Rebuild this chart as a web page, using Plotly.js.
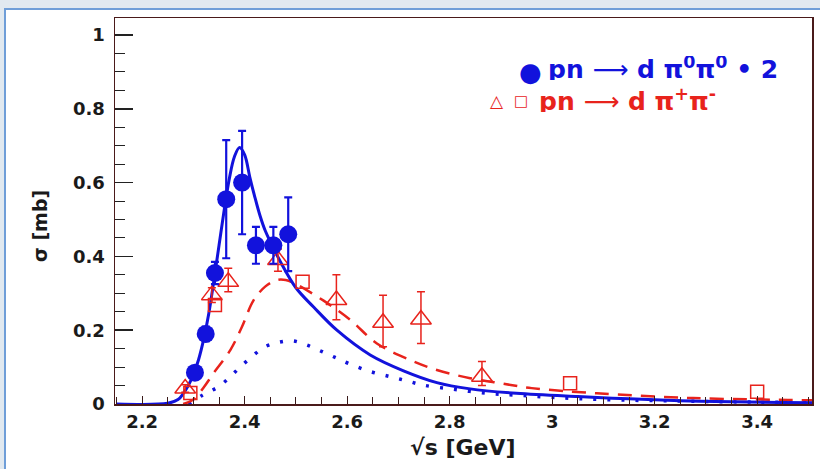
<!DOCTYPE html>
<html>
<head>
<meta charset="utf-8">
<script src="https://cdn.plot.ly/plotly-3.0.1.min.js"></script>
<style>
  html, body { margin: 0; padding: 0; background: #e1e9f0; }
  #frame { position: absolute; left: 4px; top: 8px; width: 816px; height: 461px; background: #ffffff;
           border-left: 2px solid #6f9ed8; border-top: 2px solid #6f9ed8; box-sizing: border-box; }
  #chart { position: absolute; left: 0; top: 0; width: 820px; height: 469px; }
</style>
</head>
<body>
<div id="frame"></div>
<div id="chart"></div>
<script>
// pn -> d pi0 pi0 (x2) data
const pi0X = [2.303, 2.324, 2.342, 2.364, 2.395, 2.422, 2.456, 2.485];
const pi0Y = [0.085, 0.19, 0.355, 0.555, 0.60, 0.43, 0.43, 0.46];
const pi0ErrUp = [0.015, 0.02, 0.03, 0.16, 0.14, 0.05, 0.05, 0.10];
const pi0ErrDn = [0.015, 0.02, 0.03, 0.16, 0.14, 0.05, 0.05, 0.10];

// pn -> d pi+ pi- data (triangles)
const triX = [2.284, 2.336, 2.368, 2.465, 2.579, 2.670, 2.744, 2.863];
const triY = [0.042, 0.295, 0.331, 0.39, 0.282, 0.22, 0.229, 0.074];
const triErrUp = [0.01, 0.02, 0.037, 0.03, 0.068, 0.075, 0.075, 0.041];
const triErrDn = [0.01, 0.02, 0.027, 0.03, 0.054, 0.065, 0.065, 0.024];

// pn -> d pi+ pi- data (squares)
const sqX = [2.294, 2.342, 2.513, 3.035, 3.40];
const sqY = [0.03, 0.268, 0.331, 0.056, 0.033];

// tick labels
const xTickVals = [2.2, 2.4, 2.6, 2.8, 3.0, 3.2, 3.4];
const xTickText = ['2.2', '2.4', '2.6', '2.8', '3', '3.2', '3.4'];
const yTickVals = [0, 0.2, 0.4, 0.6, 0.8, 1.0];
const yTickText = ['0', '0.2', '0.4', '0.6', '0.8', '1'];

// blue solid curve
const solidX = [2.15, 2.25, 2.27, 2.28, 2.29, 2.30, 2.31, 2.32, 2.33, 2.34, 2.35, 2.36, 2.37, 2.38, 2.39, 2.40, 2.41, 2.42, 2.43, 2.44, 2.45, 2.47, 2.50, 2.535, 2.58, 2.645, 2.71, 2.775, 2.84, 2.93, 3.05, 3.15, 3.25, 3.35, 3.45, 3.507];
const solidY = [0.0, 0.002, 0.012, 0.028, 0.05, 0.08, 0.12, 0.175, 0.245, 0.335, 0.43, 0.525, 0.61, 0.67, 0.695, 0.675, 0.615, 0.56, 0.51, 0.47, 0.44, 0.385, 0.315, 0.262, 0.20, 0.133, 0.09, 0.058, 0.041, 0.029, 0.02, 0.014, 0.009, 0.006, 0.004, 0.0035];

// red dashed curve
const dashX = [2.28, 2.30, 2.32, 2.339, 2.372, 2.395, 2.417, 2.44, 2.463, 2.48, 2.50, 2.554, 2.606, 2.658, 2.723, 2.775, 2.84, 2.90, 2.96, 3.087, 3.275, 3.46, 3.507];
const dashY = [0.0, 0.012, 0.045, 0.083, 0.146, 0.21, 0.28, 0.318, 0.336, 0.336, 0.325, 0.28, 0.228, 0.164, 0.119, 0.092, 0.07, 0.056, 0.043, 0.029, 0.016, 0.011, 0.01];

// blue dotted curve
const dotX = [2.29, 2.319, 2.349, 2.372, 2.391, 2.414, 2.438, 2.466, 2.494, 2.521, 2.551, 2.58, 2.606, 2.645, 2.684, 2.716, 2.749, 2.807, 2.872, 2.93, 3.0, 3.1, 3.25, 3.4, 3.507];
const dotY = [0.0, 0.025, 0.047, 0.074, 0.10, 0.128, 0.154, 0.167, 0.171, 0.16, 0.142, 0.124, 0.108, 0.088, 0.074, 0.063, 0.051, 0.04, 0.029, 0.024, 0.018, 0.012, 0.008, 0.005, 0.004];

const BLUE = '#1212dc';
const RED = '#e8231c';

const traces = [
  { x: dotX, y: dotY, type: 'scatter', mode: 'lines', line: { color: BLUE, width: 3.5, dash: '3px,11px', shape: 'spline' }, hoverinfo: 'skip' },
  { x: dashX, y: dashY, type: 'scatter', mode: 'lines', line: { color: RED, width: 2.5, dash: '14px,9px', shape: 'spline' }, hoverinfo: 'skip' },
  { x: solidX, y: solidY, type: 'scatter', mode: 'lines', line: { color: BLUE, width: 3, shape: 'spline' }, hoverinfo: 'skip' },
  { x: triX, y: triY, type: 'scatter', mode: 'markers',
    marker: { symbol: 'triangle-up-open', size: 18, color: RED, line: { color: RED, width: 1.5 } },
    error_y: { type: 'data', array: triErrUp, arrayminus: triErrDn, color: RED, thickness: 1.5, width: 4 } },
  { x: sqX, y: sqY, type: 'scatter', mode: 'markers',
    marker: { symbol: 'square-open', size: 13, color: RED, line: { color: RED, width: 1.5 } } },
  { x: pi0X, y: pi0Y, type: 'scatter', mode: 'markers',
    marker: { symbol: 'circle', size: 18, color: BLUE },
    error_y: { type: 'data', array: pi0ErrUp, arrayminus: pi0ErrDn, color: BLUE, thickness: 2.2, width: 4 } }
];

const DJ = 'DejaVu Sans, sans-serif';
const axisFont = { family: DJ, size: 18, color: '#1a1a1a' };
const ARROW = '<span style="font-weight:normal">⟶</span>';
const bold = a => a.map(s => '<b>' + s + '</b>');

const layout = {
  width: 820, height: 469,
  margin: { l: 115, r: 8, t: 18, b: 65 },
  paper_bgcolor: 'rgba(0,0,0,0)',
  plot_bgcolor: '#ffffff',
  showlegend: false,
  xaxis: {
    range: [2.147, 3.507], tickmode: 'array', tickvals: xTickVals, ticktext: bold(xTickText),
    ticks: 'inside', ticklen: 8, tickwidth: 1.2, tickcolor: '#3a1a1a',
    minor: { dtick: 0.05, tick0: 2.2, ticks: 'inside', ticklen: 7, tickwidth: 1, tickcolor: '#3a1a1a' },
    showgrid: false, zeroline: false, showline: true, mirror: true, linecolor: '#4a1a1a', linewidth: 1.5,
    tickfont: axisFont, ticklabelstandoff: 1
  },
  yaxis: {
    range: [0, 1.046], tickmode: 'array', tickvals: yTickVals, ticktext: bold(yTickText),
    ticks: 'inside', ticklen: 18, tickwidth: 1.5, tickcolor: '#222',
    minor: { dtick: 0.05, tick0: 0, ticks: 'inside', ticklen: 10, tickwidth: 1, tickcolor: '#222' },
    showgrid: false, zeroline: false, showline: true, mirror: true, linecolor: '#4a1a1a', linewidth: 1.5,
    tickfont: axisFont, ticklabelstandoff: 5
  },
  annotations: [
    { xref: 'paper', yref: 'paper', x: 0.499, y: -0.113, xanchor: 'center', yanchor: 'middle', showarrow: false,
      text: '<b>√s [GeV]</b>', font: { family: DJ, size: 22, color: '#1a1a1a' } },
    { xref: 'paper', yref: 'paper', x: (40 - 115) / 697, y: (404 - 226) / 386, xanchor: 'center', yanchor: 'middle', showarrow: false,
      textangle: -90, text: '<b>σ [mb]</b>', font: { family: DJ, size: 19, color: '#1a1a1a' } },
    { xref: 'paper', yref: 'paper', x: (530 - 115) / 697, y: (404 - 72) / 386, xanchor: 'center', yanchor: 'middle', showarrow: false,
      text: '●', font: { family: DJ, size: 26, color: BLUE } },
    { xref: 'paper', yref: 'paper', x: (546 - 115) / 697, y: (404 - 68) / 386, xanchor: 'left', yanchor: 'middle', showarrow: false,
      height: 24, valign: 'middle',
      text: '<b>pn ' + ARROW + ' d π<sup>0</sup>π<sup>0</sup> • 2</b>', font: { family: DJ, size: 25, color: BLUE } },
    { xref: 'paper', yref: 'paper', x: (497 - 115) / 697, y: (404 - 101) / 386, xanchor: 'center', yanchor: 'middle', showarrow: false,
      text: '△', font: { family: DJ, size: 17, color: RED } },
    { xref: 'paper', yref: 'paper', x: (521 - 115) / 697, y: (404 - 101) / 386, xanchor: 'center', yanchor: 'middle', showarrow: false,
      text: '□', font: { family: DJ, size: 15, color: RED } },
    { xref: 'paper', yref: 'paper', x: (537 - 115) / 697, y: (404 - 100) / 386, xanchor: 'left', yanchor: 'middle', showarrow: false,
      height: 24, valign: 'middle',
      text: '<b>pn ' + ARROW + ' d π<sup>+</sup>π<sup>-</sup></b>', font: { family: DJ, size: 25, color: RED } }
  ]
};

Plotly.newPlot('chart', traces, layout, { displayModeBar: false, staticPlot: true });
</script>
</body>
</html>
